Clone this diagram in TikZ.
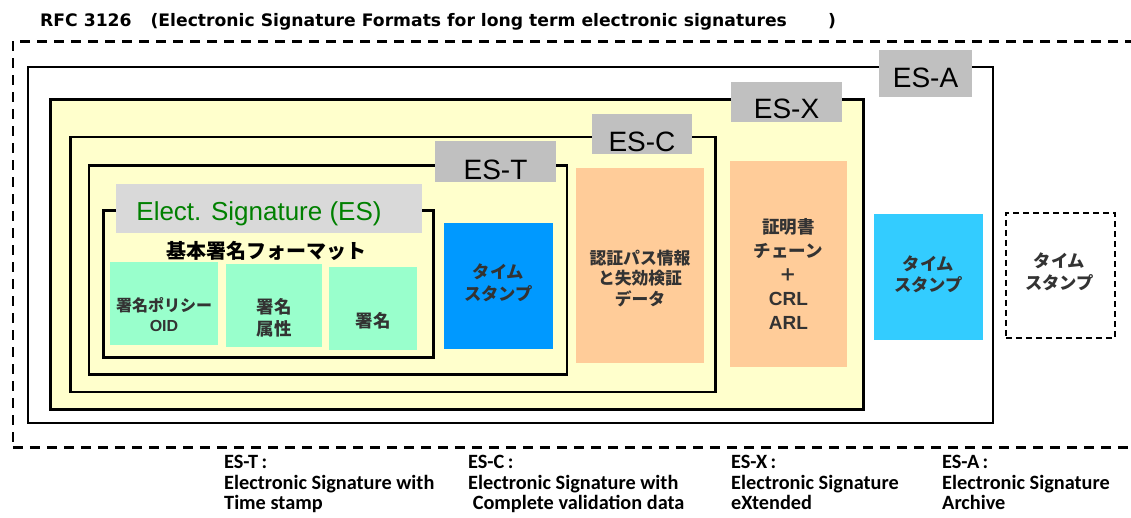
\documentclass[tikz,border=0pt]{standalone}
\usepackage{fontspec}
\setmainfont{Liberation Sans}
\newfontfamily\cjk{Noto Sans CJK JP}
\newfontfamily\calfont{Carlito}
\newfontfamily\titlefont{DejaVu Sans}
\usetikzlibrary{calc}
\definecolor{ybg}{HTML}{FFFFCC}
\definecolor{labgray}{HTML}{C0C0C0}
\definecolor{esgray}{HTML}{D9D9D9}
\definecolor{mint}{HTML}{99FFCC}
\definecolor{tsblue}{HTML}{0099FF}
\definecolor{tscyan}{HTML}{33CCFF}
\definecolor{peach}{HTML}{FFCC99}
\definecolor{txtgray}{HTML}{333333}
\definecolor{esgreen}{HTML}{008000}
\begin{document}
\begin{tikzpicture}[x=1pt,y=-1pt,
  frame/.style={draw=black, line width=2.6pt, fill=ybg, inner sep=0pt, anchor=north west},
  labbox/.style={fill=labgray, inner sep=0pt, anchor=north west},
  labtext/.style={anchor=base, inner sep=0pt, font=\fontsize{28}{28}\selectfont},
  cbox/.style={inner sep=0pt, anchor=north west},
  ctext/.style={inner sep=0pt, anchor=center, align=center, text=txtgray,
    font=\cjk\bfseries\fontsize{17.3}{21.5}\selectfont},
  bottomtext/.style={anchor=north west, inner sep=0pt, align=left,
    font=\calfont\bfseries\fontsize{20.3}{20.5}\selectfont}
]
\useasboundingbox (0,0) rectangle (1131,517);

% title
\node[anchor=base west, inner sep=0pt, font=\titlefont\bfseries\fontsize{17.2}{20}\selectfont] (title) at (40,26)
  {RFC 3126\hspace{1.1em}(Electronic Signature Formats for long term electronic signatures\hspace{2.4em})};

% outer dashed frame
\node[draw=black, line width=2.5pt, dash pattern=on 10pt off 7pt, inner sep=0pt, anchor=north west,
  minimum width=1140, minimum height=406] (outer) at (11.5,40) {};

% nested frames
\node[frame, fill=white, line width=2.2pt, minimum width=965, minimum height=356] (esA) at (26.5,65.5) {};
\node[frame, minimum width=813, minimum height=310] (esX) at (49,98) {};
\node[frame, minimum width=645, minimum height=255] (esC) at (69,135.5) {};
\node[frame, minimum width=478, minimum height=209] (esT) at (87.5,164) {};
\node[frame, minimum width=330, minimum height=147] (es) at (102,209) {};

% labels
\node[labbox, minimum width=93, minimum height=47] (labA) at (879,50) {};
\node[labtext] (labAt) at (925.5,87) {ES-A};
\node[labbox, minimum width=111, minimum height=40] (labX) at (731,82) {};
\node[labtext] (labXt) at (786.5,118) {ES-X};
\node[labbox, minimum width=100, minimum height=40] (labC) at (592,114) {};
\node[labtext] (labCt) at (642,151) {ES-C};
\node[labbox, minimum width=121, minimum height=41] (labT) at (435,141) {};
\node[labtext] (labTt) at (495.5,179) {ES-T};
\node[labbox, fill=esgray, minimum width=306, minimum height=49] (labES) at (116,184) {};
\node[anchor=base, inner sep=0pt, text=esgreen, font=\fontsize{26}{26}\selectfont] (labESt) at (259,220) {Elect. Signature (ES)};

% basic format
\node[anchor=base, inner sep=0pt, font=\cjk\bfseries\fontsize{20}{20}\selectfont] (basic) at (266,258) {基本署名フォーマット};
\node[cbox, fill=mint, minimum width=108, minimum height=83] (pol) at (110,262) {};
\node[ctext, font=\cjk\bfseries\fontsize{16}{20}\selectfont] (polt) at (164,315) {署名ポリシー\\{\fontspec{Liberation Sans}\bfseries OID}};
\node[cbox, fill=mint, minimum width=96, minimum height=83] (attr) at (226,264) {};
\node[ctext, font=\cjk\bfseries\fontsize{17.5}{22.5}\selectfont] (attrt) at (274,318) {署名\\属性};
\node[cbox, fill=mint, minimum width=88, minimum height=83] (sig) at (329,267) {};
\node[ctext, font=\cjk\bfseries\fontsize{17.5}{22}\selectfont] (sigt) at (373,320.5) {署名};

% ES-T timestamp
\node[cbox, fill=tsblue, minimum width=109, minimum height=126] (ts1) at (444,223) {};
\node[ctext] (ts1t) at (498.5,283) {タイム\\スタンプ};

% ES-C data
\node[cbox, fill=peach, minimum width=128, minimum height=195] (cdata) at (576,168) {};
\node[ctext, font=\cjk\bfseries\fontsize{16.8}{20.5}\selectfont] (cdatat) at (640,278.5) {認証パス情報\\と失効検証\\データ};

% ES-X data
\node[cbox, fill=peach, minimum width=117, minimum height=206] (xdata) at (730,161) {};
\node[ctext, font=\cjk\bfseries\fontsize{17.5}{24}\selectfont] (xdatat) at (788.5,274)
  {証明書\\チェーン\\＋\\{\fontspec{Liberation Sans}\bfseries\fontsize{19}{24}\selectfont CRL}\\{\fontspec{Liberation Sans}\bfseries\fontsize{19}{24}\selectfont ARL}};

% ES-A timestamp
\node[cbox, fill=tscyan, minimum width=109, minimum height=126] (ts2) at (874,214) {};
\node[ctext] (ts2t) at (928.5,274.5) {タイム\\スタンプ};

% dashed timestamp
\node[cbox, draw=black, line width=1.6pt, dash pattern=on 6pt off 4pt, fill=white,
  minimum width=109, minimum height=125] (ts3) at (1005,212) {};
\node[ctext] (ts3t) at (1059.5,272) {タイム\\スタンプ};

% bottom notes
\node[bottomtext] (nT) at (224,455) {ES-T\,:\\Electronic Signature with\\Time stamp};
\node[bottomtext] (nC) at (468,455) {ES-C\,:\\Electronic Signature with\\\ Complete validation data};
\node[bottomtext] (nX) at (731,455) {ES-X\,:\\Electronic Signature\\eXtended};
\node[bottomtext] (nA) at (942,455) {ES-A\,:\\Electronic Signature\\Archive};
\end{tikzpicture}
\end{document}
